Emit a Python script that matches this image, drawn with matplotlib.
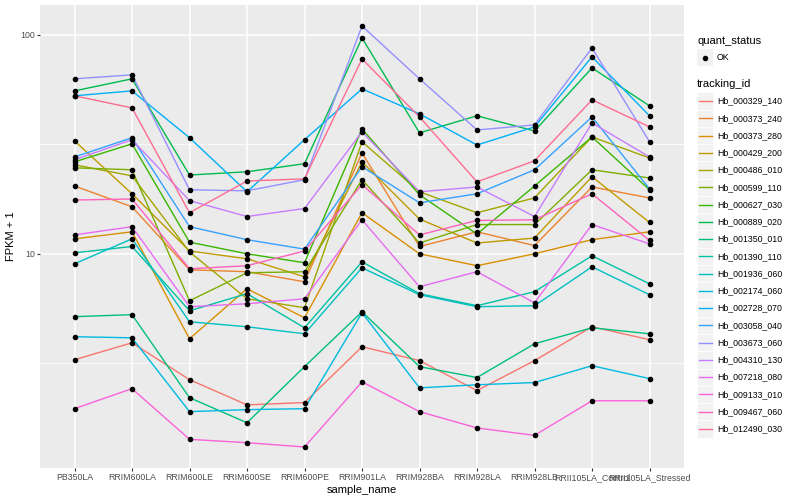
import numpy as np
import matplotlib
matplotlib.use('Agg')
import matplotlib.pyplot as plt
from matplotlib.lines import Line2D
from matplotlib.patches import Rectangle
from matplotlib.ticker import FixedLocator, NullFormatter

plt.rcParams['font.family'] = ['Liberation Sans', 'DejaVu Sans']

samples = ["PB350LA", "RRIM600LA", "RRIM600LE", "RRIM600SE", "RRIM600PE",
           "RRIM901LA", "RRIM928BA", "RRIM928LA", "RRIM928LB",
           "RRII105LA_Control", "RRII105LA_Stressed"]

# FPKM + 1 values
hb_000329_140 = [3.28, 3.92, 2.66, 2.04, 2.09, 3.76, 3.25, 2.37, 3.25, 4.64, 4.05]
hb_000373_240 = [20.4, 16.4, 8.45, 8.28, 7.45, 28.9, 10.8, 12.6, 10.9, 20.2, 18.0]
hb_000373_280 = [11.7, 12.6, 4.09, 6.92, 5.10, 15.4, 10.0, 8.82, 10.0, 11.6, 12.6]
hb_000429_200 = [32.8, 18.8, 10.3, 9.49, 7.85, 26.3, 14.4, 11.2, 11.8, 22.5, 13.9]
hb_000486_010 = [25.5, 22.7, 10.2, 6.23, 5.67, 32.5, 19.2, 15.4, 18.0, 34.2, 27.4]
hb_000599_110 = [24.7, 24.2, 6.10, 8.19, 8.28, 21.8, 11.2, 13.6, 13.6, 24.2, 22.2]
hb_000627_030 = [26.3, 31.8, 11.3, 10.0, 9.1, 37.2, 18.6, 12.3, 20.4, 34.2, 19.6]
hb_000889_020 = [55.5, 63.0, 22.9, 23.7, 25.8, 96.9, 35.7, 42.7, 36.4, 70.7, 47.4]
hb_001350_010 = [5.16, 5.27, 2.20, 1.69, 3.05, 5.43, 3.05, 2.72, 3.88, 4.59, 4.31]
hb_001390_110 = [10.1, 10.8, 5.49, 6.57, 4.59, 9.19, 6.57, 5.79, 6.71, 9.79, 7.29]
hb_001936_060 = [9.00, 11.7, 4.89, 4.64, 4.31, 8.63, 6.50, 5.73, 5.79, 8.72, 6.50]
hb_002174_060 = [4.18, 4.13, 1.90, 1.94, 1.96, 5.38, 2.44, 2.52, 2.58, 3.08, 2.69]
hb_002728_070 = [52.7, 55.5, 33.9, 19.2, 33.2, 56.7, 43.6, 31.4, 38.0, 79.4, 42.7]
hb_003058_040 = [27.7, 33.9, 13.3, 11.6, 10.5, 25.0, 17.1, 18.8, 24.2, 42.2, 19.8]
hb_003673_060 = [63.0, 65.7, 19.6, 19.4, 21.8, 109.9, 63.0, 36.8, 38.8, 87.2, 32.5]
hb_004310_130 = [26.9, 33.2, 17.5, 14.8, 16.1, 36.1, 19.2, 20.2, 14.8, 39.6, 27.7]
hb_007218_080 = [12.2, 13.3, 5.73, 5.91, 6.23, 14.3, 7.07, 8.28, 5.97, 13.6, 11.1]
hb_009133_010 = [1.96, 2.42, 1.42, 1.37, 1.31, 2.60, 1.90, 1.60, 1.48, 2.13, 2.13]
hb_009467_060 = [17.6, 17.8, 8.54, 8.82, 10.3, 20.7, 12.2, 14.2, 14.3, 18.8, 11.5]
hb_012490_030 = [52.7, 46.4, 15.4, 21.5, 22.0, 77.7, 42.2, 21.3, 26.6, 50.5, 38.0]

tracking_ids = ["Hb_000329_140", "Hb_000373_240", "Hb_000373_280", "Hb_000429_200",
                "Hb_000486_010", "Hb_000599_110", "Hb_000627_030", "Hb_000889_020",
                "Hb_001350_010", "Hb_001390_110", "Hb_001936_060", "Hb_002174_060",
                "Hb_002728_070", "Hb_003058_040", "Hb_003673_060", "Hb_004310_130",
                "Hb_007218_080", "Hb_009133_010", "Hb_009467_060", "Hb_012490_030"]
series = [hb_000329_140, hb_000373_240, hb_000373_280, hb_000429_200,
          hb_000486_010, hb_000599_110, hb_000627_030, hb_000889_020,
          hb_001350_010, hb_001390_110, hb_001936_060, hb_002174_060,
          hb_002728_070, hb_003058_040, hb_003673_060, hb_004310_130,
          hb_007218_080, hb_009133_010, hb_009467_060, hb_012490_030]

# ggplot hue palette, 20 levels
colors = ["#F8766D", "#EA8331", "#D89000", "#C09B00", "#A3A500", "#7CAE00",
          "#39B600", "#00BB4E", "#00BF7D", "#00C1A3", "#00BFC4", "#00BAE0",
          "#00B0F6", "#35A2FF", "#9590FF", "#C77CFF", "#E76BF3", "#FA62DB",
          "#FF62BC", "#FF6C91"]

W, H = 800, 500
fig = plt.figure(figsize=(W / 100, H / 100), dpi=100)
ax = fig.add_axes([40 / W, 32 / H, 644 / W, 463 / H])
ax.set_facecolor('#EBEBEB')
for s in ax.spines.values():
    s.set_visible(False)

x = np.arange(len(samples))
for vals, col in zip(series, colors):
    ax.plot(x, vals, color=col, lw=1.0, zorder=2)
for vals in series:
    ax.plot(x, vals, 'o', color='black', ms=3.0, zorder=3)

ax.set_yscale('log')
ax.set_ylim(1.05, 137)
ax.set_xlim(-0.6, len(samples) - 0.4)
ax.set_yticks([10, 100])
ax.set_yticklabels(['10', '100'])
ax.yaxis.set_minor_locator(FixedLocator([10 ** 0.5, 10 ** 1.5]))
ax.yaxis.set_minor_formatter(NullFormatter())
ax.set_xticks(x)
ax.set_xticklabels(samples)
ax.set_axisbelow(True)
ax.grid(which='major', color='white', lw=1.1)
ax.grid(which='minor', axis='y', color='white', lw=0.55)
ax.tick_params(which='major', length=2.2, width=0.8, color='#333333',
               labelcolor='#4D4D4D', labelsize=6.3, pad=1.5)
ax.tick_params(which='minor', length=0)

ax.set_xlabel('sample_name', fontsize=8, labelpad=2)
ax.set_ylabel('FPKM + 1', fontsize=8, labelpad=3)


def fx(px):
    return px / W


def fy(py):
    return 1 - py / H


# legend: quant_status
fig.text(fx(697), fy(41), 'quant_status', fontsize=8, va='center', ha='left')
fig.add_artist(Rectangle((fx(697), fy(66)), 16 / W, 17 / H, facecolor='#F2F2F2',
                         edgecolor='none', transform=fig.transFigure))
fig.add_artist(Line2D([fx(705)], [fy(57.5)], marker='o', ms=3.0, color='black',
                      transform=fig.transFigure))
fig.text(fx(717), fy(57.5), 'OK', fontsize=6.3, va='center', ha='left')

# legend: tracking_id
fig.text(fx(697), fy(84), 'tracking_id', fontsize=8, va='center', ha='left')
for i, (tid, col) in enumerate(zip(tracking_ids, colors)):
    yc = 101 + i * 17.26
    fig.add_artist(Rectangle((fx(697), fy(yc + 8.6)), 16 / W, 17.2 / H,
                             facecolor='#F2F2F2', edgecolor='white', lw=0.5,
                             transform=fig.transFigure))
    fig.add_artist(Line2D([fx(698.5), fx(711.5)], [fy(yc), fy(yc)], color=col,
                          lw=1.0, transform=fig.transFigure))
    fig.text(fx(717), fy(yc), tid, fontsize=6.3, va='center', ha='left')

fig.savefig('out.png', dpi=100)
